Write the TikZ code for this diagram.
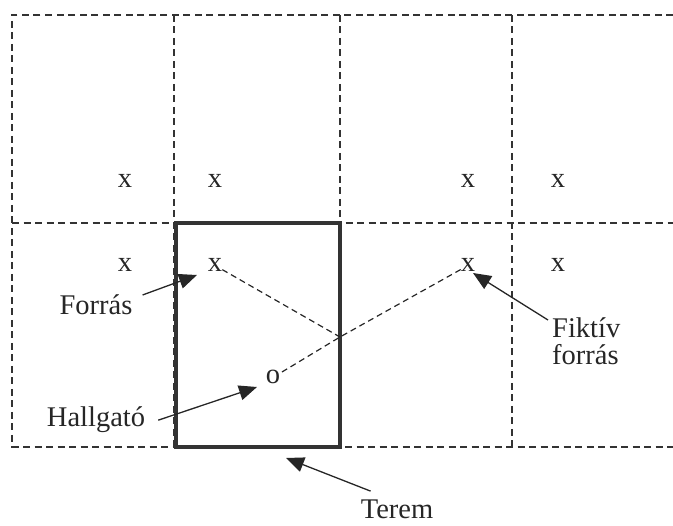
\documentclass[tikz,border=0pt]{standalone}
\usepackage{fontspec}
\setmainfont{Liberation Serif}
\usetikzlibrary{arrows.meta}
\begin{document}
\begin{tikzpicture}[x=1pt, y=-1pt,
    grid/.style={draw=black!80, line width=1.3pt, dash pattern=on 7pt off 4.5pt},
    ray/.style={draw=black!85, line width=1.2pt, dash pattern=on 6pt off 4pt},
    room/.style={draw=black!80, line width=3.6pt},
    arr/.style={draw=black!85, line width=1.3pt, -{Triangle[length=18pt, width=15pt]}},
    lbl/.style={font=\fontsize{28.5}{27}\selectfont, text=black!85, inner sep=4pt},
    spot/.style={font=\fontsize{28.5}{27}\selectfont, text=black!85, inner sep=0pt, anchor=base}]
    \useasboundingbox (0,0) rectangle (673,526);
    % grid of mirrored rooms
    \draw[grid] (673,15) -- (12,15) -- (12,447) -- (673,447);
    \draw[grid] (12,223) -- (673,223);
    \foreach \gx in {174,340} \draw[grid] (\gx,15) -- (\gx,447);
    \draw[grid] (512,15) -- (512,452);
    \draw[room] (176,223) rectangle (340,447);% Terem
    % sources
    \node[spot] (s1) at (125,188) {x};
    \node[spot] (s2) at (215,188) {x};
    \node[spot] (s3) at (468,188) {x};
    \node[spot] (s4) at (558,188) {x};
    \node[spot] (s5) at (125,272) {x};
    \node[spot] (src) at (215,272) {x};
    \node[spot] (fict) at (468,272) {x};
    \node[spot] (s8) at (558,272) {x};
    \node[spot] (lst) at (273,384) {o};
    % rays
    \coordinate (refl) at (340,337);
    \draw[ray] (src) -- (refl);
    \draw[ray] (fict) -- (refl) -- (lst);
    % labels
    \node[lbl, anchor=base] (forras) at (96,315) {Forrás};
    \node[lbl, anchor=base] (hallg) at (96,427) {Hallgató};
    \node[lbl, anchor=north west, align=left] (fikt) at (548,313) {Fiktív\\forrás};
    \node[lbl, anchor=base, inner sep=0pt] (terem) at (397,519) {Terem};
    \coordinate (forrasTip) at (197,275);
    \coordinate (hallgTip) at (257,387);
    \coordinate (fiktTip) at (473,273);
    \coordinate (teremTip) at (286,458);
    \draw[arr] ([xshift=6pt, yshift=-4pt]forras.north east) -- (forrasTip);
    \draw[arr] ([xshift=9pt]hallg.east) -- (hallgTip);
    \draw[arr] ([yshift=-7pt]fikt.north west) -- (fiktTip);
    \draw[arr] ([xshift=10pt, yshift=9pt]terem.north west) -- (teremTip);
\end{tikzpicture}
\end{document}
